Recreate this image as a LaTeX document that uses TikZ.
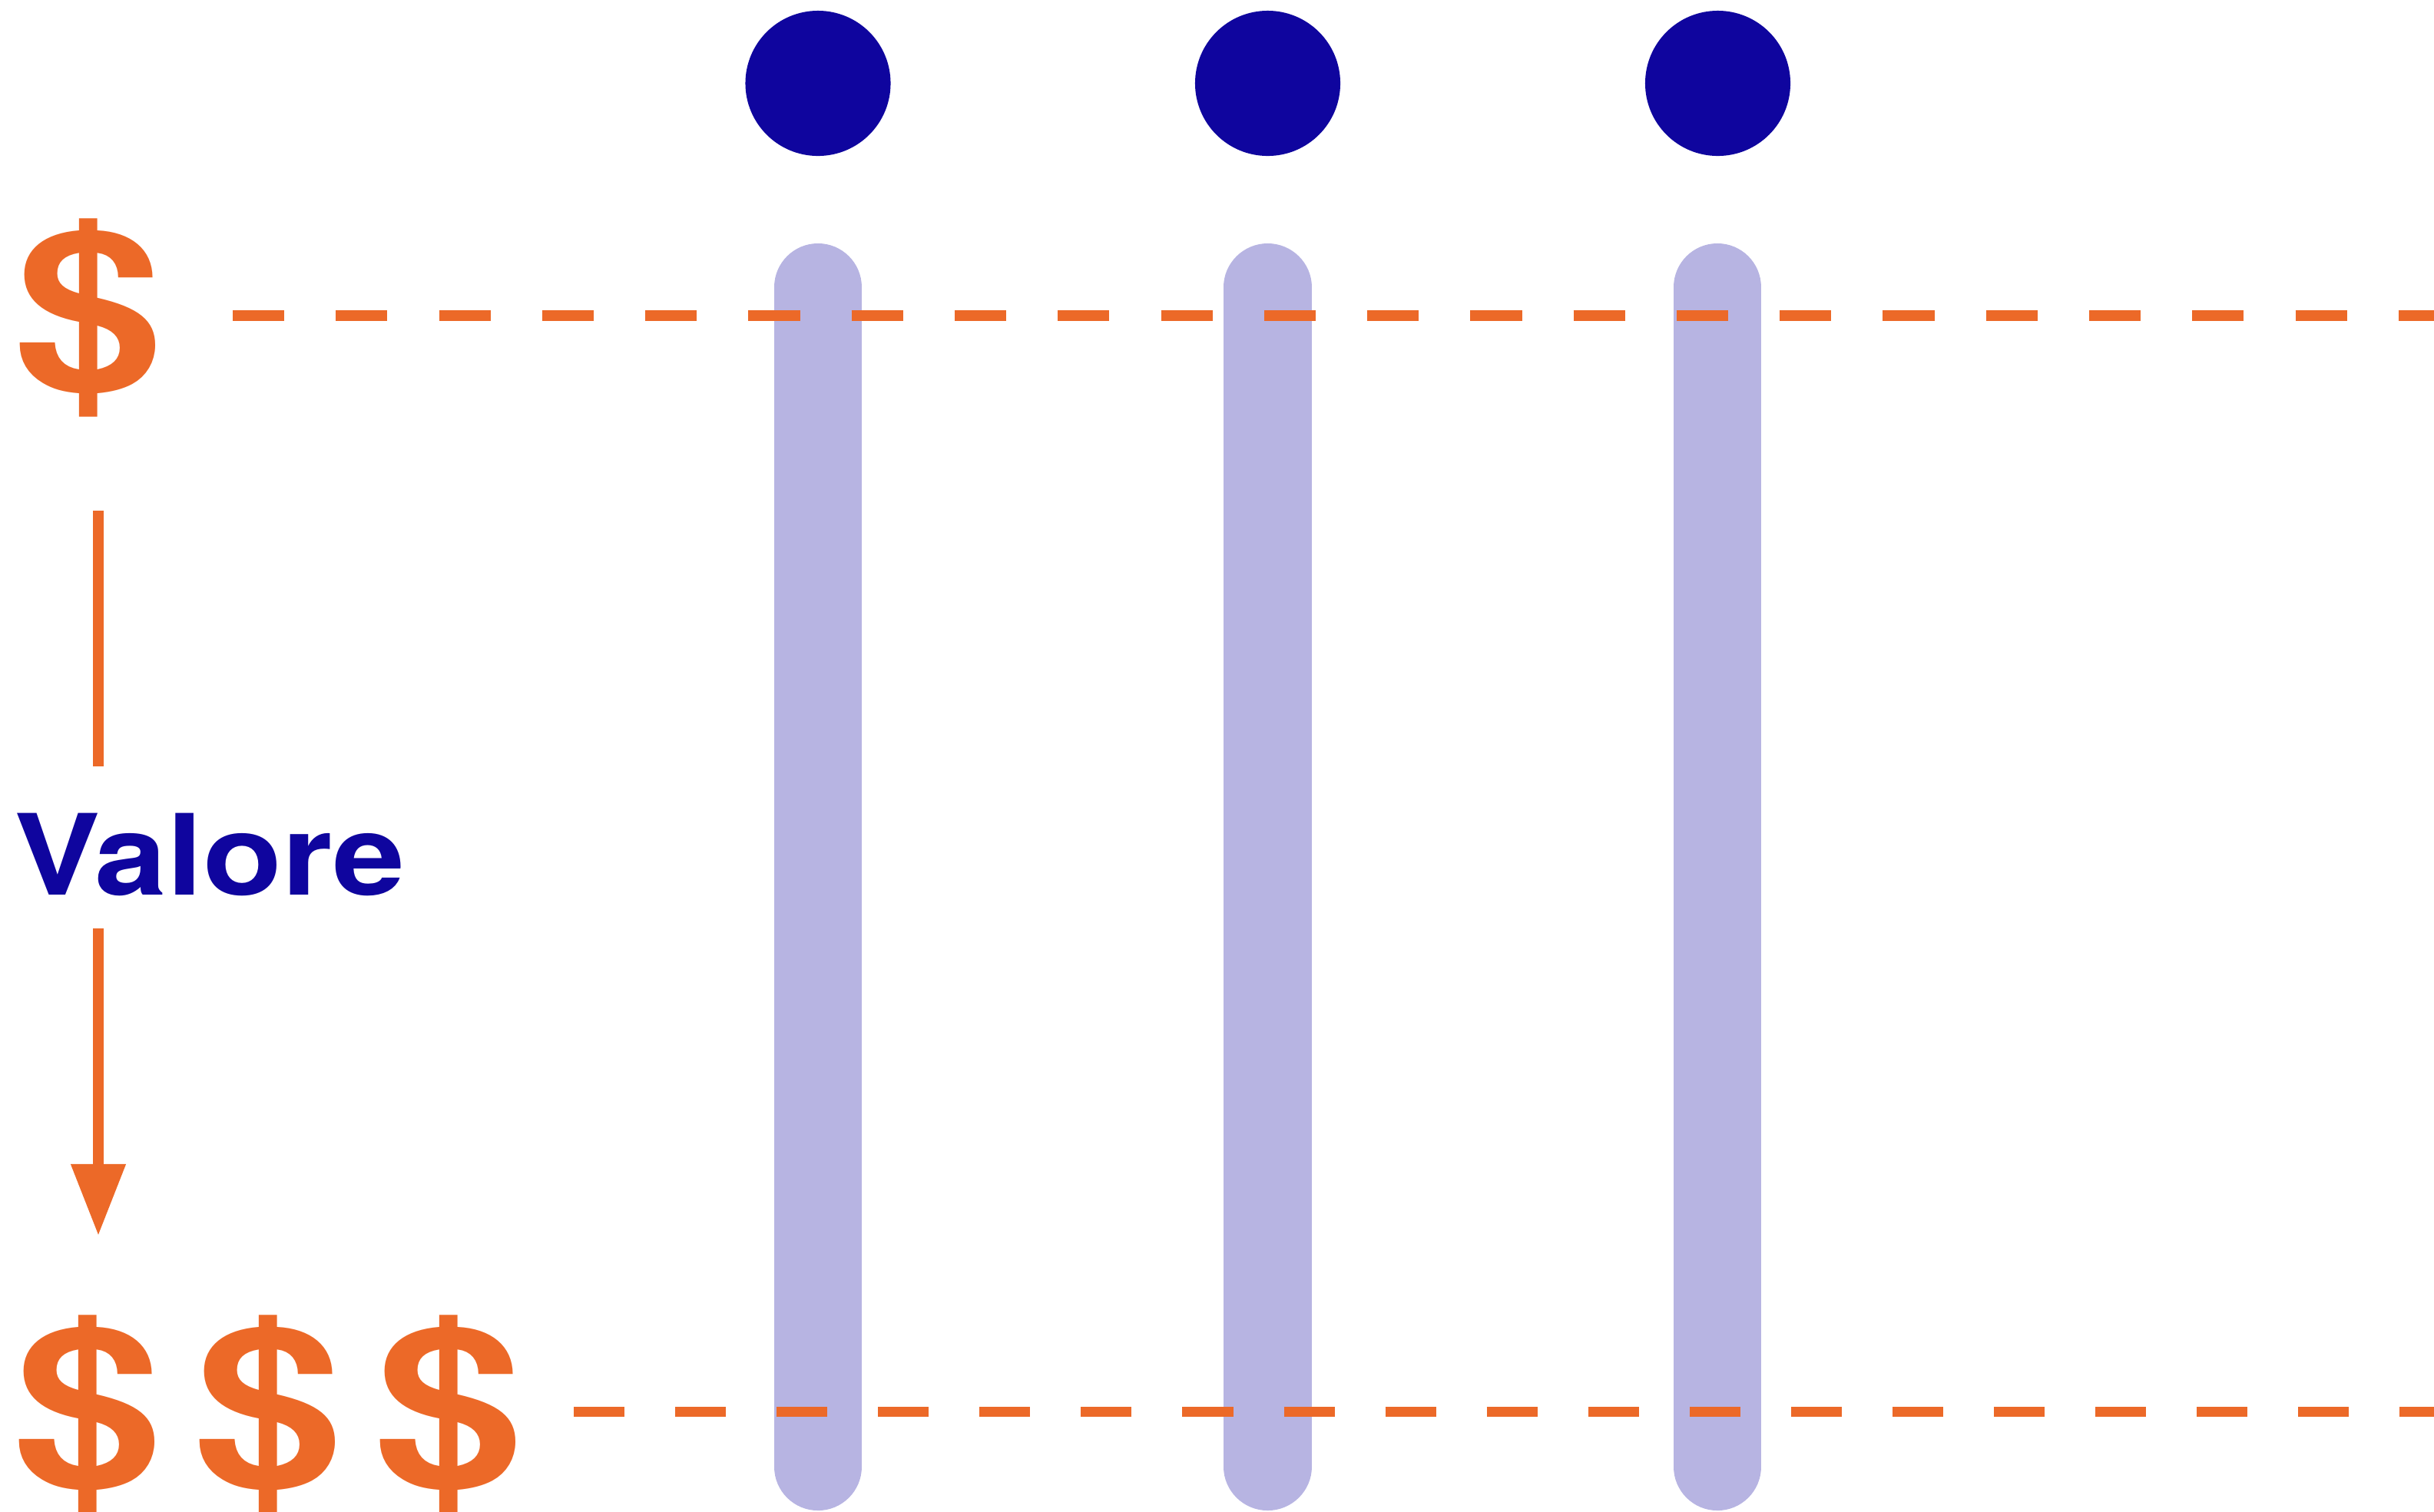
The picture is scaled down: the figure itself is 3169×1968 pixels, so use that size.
\documentclass[tikz,border=0pt]{standalone}
\usepackage{fontspec}
\setmainfont{TeX Gyre Heros}
\usepackage{graphicx}
\usetikzlibrary{arrows.meta}
\definecolor{orng}{RGB}{236,105,40}
\definecolor{navy}{RGB}{15,5,158}
\definecolor{lav}{RGB}{183,180,226}
\newcommand{\dollarglyph}{\resizebox*{1.94cm}{2.58cm}{\bfseries\$}}
\tikzset{
  dot/.style={circle, fill=navy, draw=none, minimum size=1.89cm, inner sep=0pt},
  bar/.style={line width=1.14cm, line cap=round, draw=lav},
  dashtop/.style={line width=0.14cm, draw=orng, dash pattern=on 0.671cm off 0.671cm},
  dashbot/.style={line width=0.135cm, draw=orng, dash pattern=on 0.66cm off 0.66cm},
  vline/.style={line width=0.14cm, draw=orng},
  money/.style={inner sep=0pt, outer sep=0pt, text=orng, anchor=south west},
  label/.style={inner sep=0pt, outer sep=0pt, text=navy, anchor=base west,
    font=\fontsize{41.5pt}{50pt}\selectfont\bfseries}
}
\begin{document}
\begin{tikzpicture}[x=0.01cm, y=-0.01cm]
\useasboundingbox (0,0) rectangle (3169,1968);
% circles
\node[dot] (c1) at (1065,108.5) {};
\node[dot] (c2) at (1650.5,108.5) {};
\node[dot] (c3) at (2236.5,108.5) {};
% bars
\coordinate (b1t) at (1065,374);  \coordinate (b1b) at (1065,1910);
\coordinate (b2t) at (1650.5,374); \coordinate (b2b) at (1650.5,1910);
\coordinate (b3t) at (2236,374);  \coordinate (b3b) at (2236,1910);
\draw[bar] (b1t) -- (b1b);
\draw[bar] (b2t) -- (b2b);
\draw[bar] (b3t) -- (b3b);
% money signs
\node[money] (topd) at (18.5,543) {\dollarglyph};
\node[money] (bd1) at (17.5,1971) {\dollarglyph};
\node[money] (bd2) at (252.5,1971) {\dollarglyph};
\node[money] (bd3) at (487.5,1971) {\dollarglyph};
% dashed levels
\coordinate (dt1) at (303,411);  \coordinate (dt2) at (3240,411);
\coordinate (db1) at (747,1838.5); \coordinate (db2) at (3240,1838.5);
\draw[dashtop] (dt1) -- (dt2);
\draw[dashbot] (db1) -- (db2);
% value arrow
\node[label] (val) at (18.5,1165) {\scalebox{1.155}[1]{Valore}};
\coordinate (a1) at (128,665);
\coordinate (a2) at (128,998);
\coordinate (a3) at (128,1209);
\coordinate (a4) at (128,1609);
\draw[vline] (a1) -- (a2);
\draw[vline, -{Triangle[width=0.68cm, length=0.93cm]}] (a3) -- (a4);
\end{tikzpicture}
\end{document}
